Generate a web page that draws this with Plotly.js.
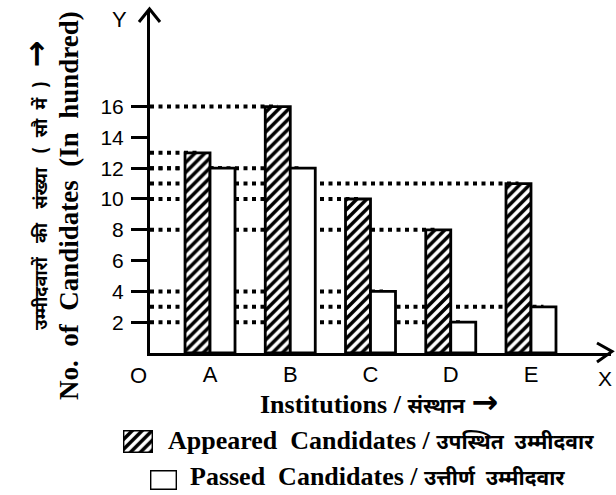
<!DOCTYPE html>
<html>
<head>
<meta charset="utf-8">
<script src="https://cdn.plot.ly/plotly-3.0.1.min.js"></script>
<style>html,body{margin:0;padding:0;background:#fff;}#chart{width:616px;height:495px;}</style>
</head>
<body>
<div id="chart"></div>
<script>
const categories = ['A', 'B', 'C', 'D', 'E'];
const appeared = [13, 16, 10, 8, 11];
const passed = [12, 12, 4, 2, 3];
const yTickVals = [2, 4, 6, 8, 10, 12, 14, 16];
const seriesNames = ['Appeared Candidates / उपस्थित उम्मीदवार', 'Passed Candidates / उत्तीर्ण उम्मीदवार'];

const W = 616, H = 495;
const px = x => x / W;
const py = y => (H - y) / H;

const xIdx = categories.map((c, i) => i);
const bargap = 0.377;
const barW = (1 - bargap) / 2;
const xMin = -0.748, xMax = 4.997;

const hatch = {shape: '/', fgcolor: 'black', bgcolor: 'white', size: 7, solidity: 0.5};
const outline = {color: 'black', width: 2.8};

const traces = [
  {type: 'bar', name: seriesNames[0], x: xIdx, y: appeared, xaxis: 'x', yaxis: 'y',
   marker: {color: 'white', pattern: hatch, line: outline}, hoverinfo: 'skip'},
  {type: 'bar', name: seriesNames[1], x: xIdx, y: passed, xaxis: 'x', yaxis: 'y',
   marker: {color: 'white', line: outline}, hoverinfo: 'skip'},
  // legend swatches
  {type: 'bar', x: [0], y: [1], width: [1], xaxis: 'x2', yaxis: 'y2', cliponaxis: false,
   marker: {color: 'white', pattern: hatch, line: outline}, hoverinfo: 'skip'},
  {type: 'bar', x: [0], y: [1], width: [1], xaxis: 'x3', yaxis: 'y3', cliponaxis: false,
   marker: {color: 'white', line: outline}, hoverinfo: 'skip'}
];

const shapes = [];
const dotLine = {color: 'black', width: 4, dash: '4px,4.5px'};
appeared.forEach((v, i) => shapes.push({type: 'line', xref: 'x', yref: 'y', layer: 'below',
  x0: xMin, x1: i - barW / 2, y0: v, y1: v, line: dotLine}));
passed.forEach((v, i) => shapes.push({type: 'line', xref: 'x', yref: 'y', layer: 'below',
  x0: xMin, x1: i + barW / 2, y0: v, y1: v, line: dotLine}));
// axis arrow heads
shapes.push({type: 'path', xref: 'paper', yref: 'paper',
  path: `M ${px(597)},${py(343)} L ${px(612)},${py(351.5)} L ${px(597)},${py(362)}`,
  line: {color: 'black', width: 3}});
shapes.push({type: 'path', xref: 'paper', yref: 'paper',
  path: `M ${px(139)},${py(22)} L ${px(149.5)},${py(9)} L ${px(160)},${py(22)}`,
  line: {color: 'black', width: 3}});

const sans = 'Liberation Sans, Arial, sans-serif';
const serif = 'Liberation Serif, Times New Roman, serif';
const deva = 'Noto Sans Devanagari, Lohit Devanagari, FreeSans, sans-serif';

const ann = (o) => Object.assign({xref: 'paper', yref: 'paper', showarrow: false,
  xanchor: 'center', yanchor: 'middle'}, o);

const annotations = [
  ann({x: px(138), y: py(375), text: 'O', font: {family: sans, size: 22, color: 'black'}}),
  ann({x: px(605), y: py(378), text: 'X', font: {family: sans, size: 21, color: 'black'}}),
  ann({x: px(119), y: py(19), text: 'Y', font: {family: sans, size: 22, color: 'black'}}),
  ann({x: px(379), y: py(402),
   text: 'Institutions / <span style="font-family:' + deva + ';font-size:21px">संस्थान</span> <span style="font-family:DejaVu Sans;font-size:32px">→</span>',
   font: {family: serif, size: 26, color: 'black', weight: 'bold'}}),
  ann({x: px(69), y: py(206), textangle: -90,
   text: 'No.\u00a0 of\u00a0 Candidates\u00a0 (In\u00a0 hundred)',
   font: {family: serif, size: 27, color: 'black', weight: 'bold'}}),
  ann({x: px(36), y: py(185), textangle: -90,
   text: 'उम्मीदवारों\u00a0\u00a0 की\u00a0\u00a0 संख्या\u00a0\u00a0 (\u00a0 सौ\u00a0 में\u00a0 )\u00a0\u00a0 <span style="font-family:DejaVu Sans;font-size:32px">→</span>',
   font: {family: deva, size: 18, color: 'black', weight: 'bold'}}),
  ann({x: px(166), y: py(442), xanchor: 'left',
   text: 'Appeared\u00a0 Candidates / <span style="font-family:' + deva + ';font-size:21px">उपस्थित\u00a0 उम्मीदवार</span>',
   font: {family: serif, size: 26, color: 'black', weight: 'bold'}}),
  ann({x: px(188), y: py(478), xanchor: 'left',
   text: 'Passed\u00a0 Candidates / <span style="font-family:' + deva + ';font-size:21px">उत्तीर्ण\u00a0 उम्मीदवार</span>',
   font: {family: serif, size: 26, color: 'black', weight: 'bold'}})
];

const layout = {
  width: W, height: H,
  margin: {l: 0, r: 0, t: 0, b: 0},
  paper_bgcolor: 'white', plot_bgcolor: 'rgba(0,0,0,0)',
  showlegend: false,
  barmode: 'group', bargap: bargap, bargroupgap: 0,
  xaxis: {domain: [px(150), px(611)], range: [xMin, xMax], tickvals: xIdx, ticktext: categories,
    showgrid: false, zeroline: false, showline: true, linewidth: 3, linecolor: 'black',
    ticks: '', ticklabelstandoff: 0, tickfont: {family: sans, size: 22, color: 'black'}, fixedrange: true},
  yaxis: {domain: [py(353), py(10)], range: [0, 22.27], tickvals: yTickVals,
    showgrid: false, zeroline: false, showline: true, linewidth: 3, linecolor: 'black',
    ticks: 'outside', ticklen: 16, tickwidth: 3, tickcolor: 'black', ticklabelstandoff: 3,
    tickfont: {family: sans, size: 21, color: 'black'}, fixedrange: true},
  xaxis2: {domain: [px(123), px(153)], range: [-0.5, 0.5], visible: false, anchor: 'y2', fixedrange: true},
  yaxis2: {domain: [py(453), py(430)], range: [0, 1], visible: false, anchor: 'x2', fixedrange: true},
  xaxis3: {domain: [px(150), px(177)], range: [-0.5, 0.5], visible: false, anchor: 'y3', fixedrange: true},
  yaxis3: {domain: [py(490), py(470)], range: [0, 1], visible: false, anchor: 'x3', fixedrange: true},
  shapes: shapes,
  annotations: annotations
};

Plotly.newPlot('chart', traces, layout, {displayModeBar: false, staticPlot: true});
</script>
</body>
</html>
